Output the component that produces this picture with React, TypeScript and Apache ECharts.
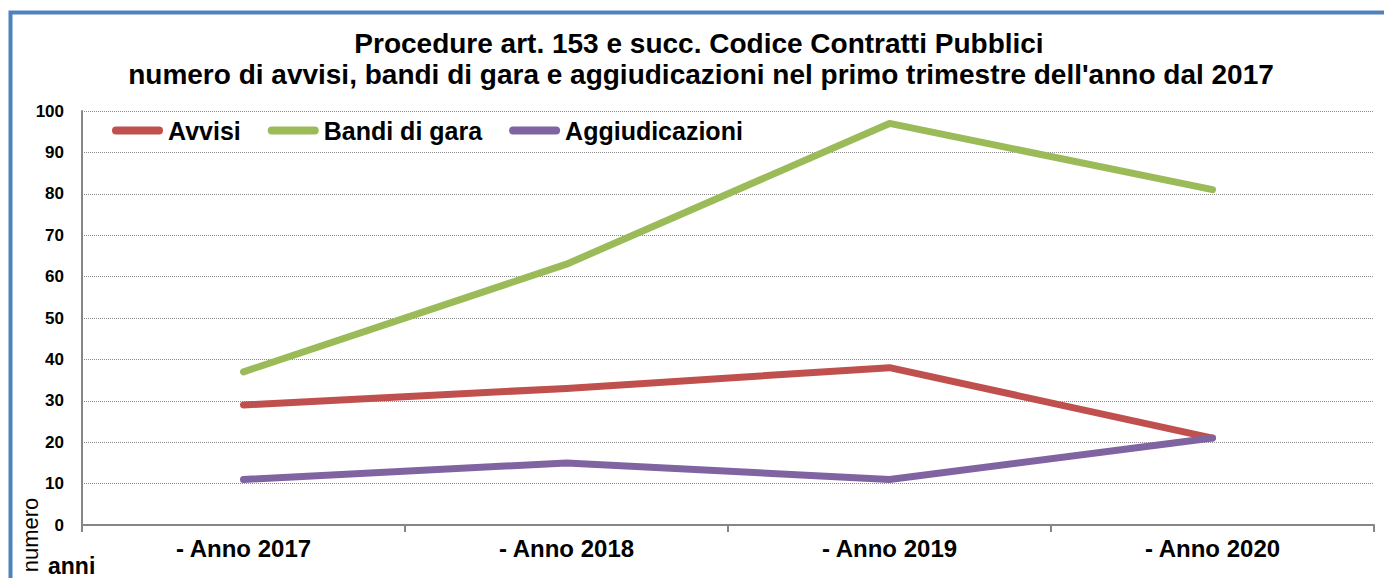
import React, { useEffect, useRef } from "react";
import * as echarts from "echarts";

const categories = ["- Anno 2017", "- Anno 2018", "- Anno 2019", "- Anno 2020"];
const avvisi = [29, 33, 38, 21];
const bandiDiGara = [37, 63, 97, 81];
const aggiudicazioni = [11, 15, 11, 21];
const yTicks = { min: 0, max: 100, interval: 10 };
const titleLines = [
  "Procedure art. 153 e succ. Codice Contratti Pubblici",
  "numero di avvisi, bandi di gara e aggiudicazioni nel primo trimestre dell'anno dal 2017",
];

const FONT = "'Liberation Sans', Arial, sans-serif";

export default function App() {
  const ref = useRef<HTMLDivElement>(null);
  useEffect(() => {
    if (!ref.current) return;
    const chart = echarts.init(ref.current, null, { renderer: "svg" });
    const mkSeries = (name: string, data: number[], color: string) => ({
      name,
      type: "line",
      data,
      showSymbol: false,
      symbol: "none",
      color,
      lineStyle: { width: 7, color, cap: "round", join: "round" },
    });
    chart.setOption({
      animation: false,
      backgroundColor: "#ffffff",
      textStyle: { fontFamily: FONT },
      grid: { left: 82, right: 10, top: 111, bottom: 53, containLabel: false },
      legend: {
        left: 112,
        top: 118,
        padding: 0,
        itemWidth: 51,
        itemHeight: 8,
        itemGap: 27,
        icon: "path://M4,0 H47 A4,4 0 0 1 47,8 H4 A4,4 0 0 1 4,0 Z",
        textStyle: { fontSize: 25, fontWeight: "bold", color: "#000", fontFamily: FONT },
        data: ["Avvisi", "Bandi di gara", "Aggiudicazioni"],
      },
      xAxis: {
        type: "category",
        data: categories,
        boundaryGap: true,
        axisLine: { show: true, lineStyle: { color: "#868686", width: 2 } },
        axisTick: { show: true, alignWithLabel: false, length: 7, lineStyle: { color: "#868686", width: 2 } },
        axisLabel: { fontSize: 24, fontWeight: "bold", color: "#000", margin: 11, fontFamily: FONT },
        splitLine: { show: false },
      },
      yAxis: {
        type: "value",
        min: yTicks.min,
        max: yTicks.max,
        interval: yTicks.interval,
        axisLine: { show: true, lineStyle: { color: "#868686", width: 2 } },
        axisTick: { show: false },
        axisLabel: { fontSize: 17, fontWeight: "bold", color: "#000", margin: 18, fontFamily: FONT },
        splitLine: { show: true, lineStyle: { color: "#8a8a8a", width: 1, type: "dotted" } },
      },
      graphic: [
        {
          type: "rect",
          shape: { x: 10.5, y: 12.5, width: 1400, height: 700 },
          style: { fill: "none", stroke: "#4F81BD", lineWidth: 4 },
          silent: true,
        },
        {
          type: "text",
          x: 699,
          y: 43,
          style: {
            text: titleLines[0],
            fontSize: 28,
            fontWeight: "bold",
            fontFamily: FONT,
            fill: "#000",
            align: "center",
            verticalAlign: "middle",
          },
        },
        {
          type: "text",
          x: 701,
          y: 74,
          style: {
            text: titleLines[1],
            fontSize: 28,
            fontWeight: "bold",
            fontFamily: FONT,
            fill: "#000",
            align: "center",
            verticalAlign: "middle",
          },
        },
        {
          type: "text",
          x: 30,
          y: 535,
          rotation: Math.PI / 2,
          style: {
            text: "numero",
            fontSize: 22,
            fontFamily: FONT,
            fill: "#000",
            align: "center",
            verticalAlign: "middle",
          },
        },
        {
          type: "text",
          x: 48,
          y: 566,
          style: {
            text: "anni",
            fontSize: 23,
            fontWeight: "bold",
            fontFamily: FONT,
            fill: "#000",
            align: "left",
            verticalAlign: "middle",
          },
        },
      ],
      series: [
        mkSeries("Avvisi", avvisi, "#C0504D"),
        mkSeries("Bandi di gara", bandiDiGara, "#9BBB59"),
        mkSeries("Aggiudicazioni", aggiudicazioni, "#8064A2"),
      ],
    });
    return () => chart.dispose();
  }, []);
  return (
    <div
      ref={ref}
      style={{ position: "absolute", left: 0, top: 0, width: 1384, height: 578 }}
    />
  );
}
